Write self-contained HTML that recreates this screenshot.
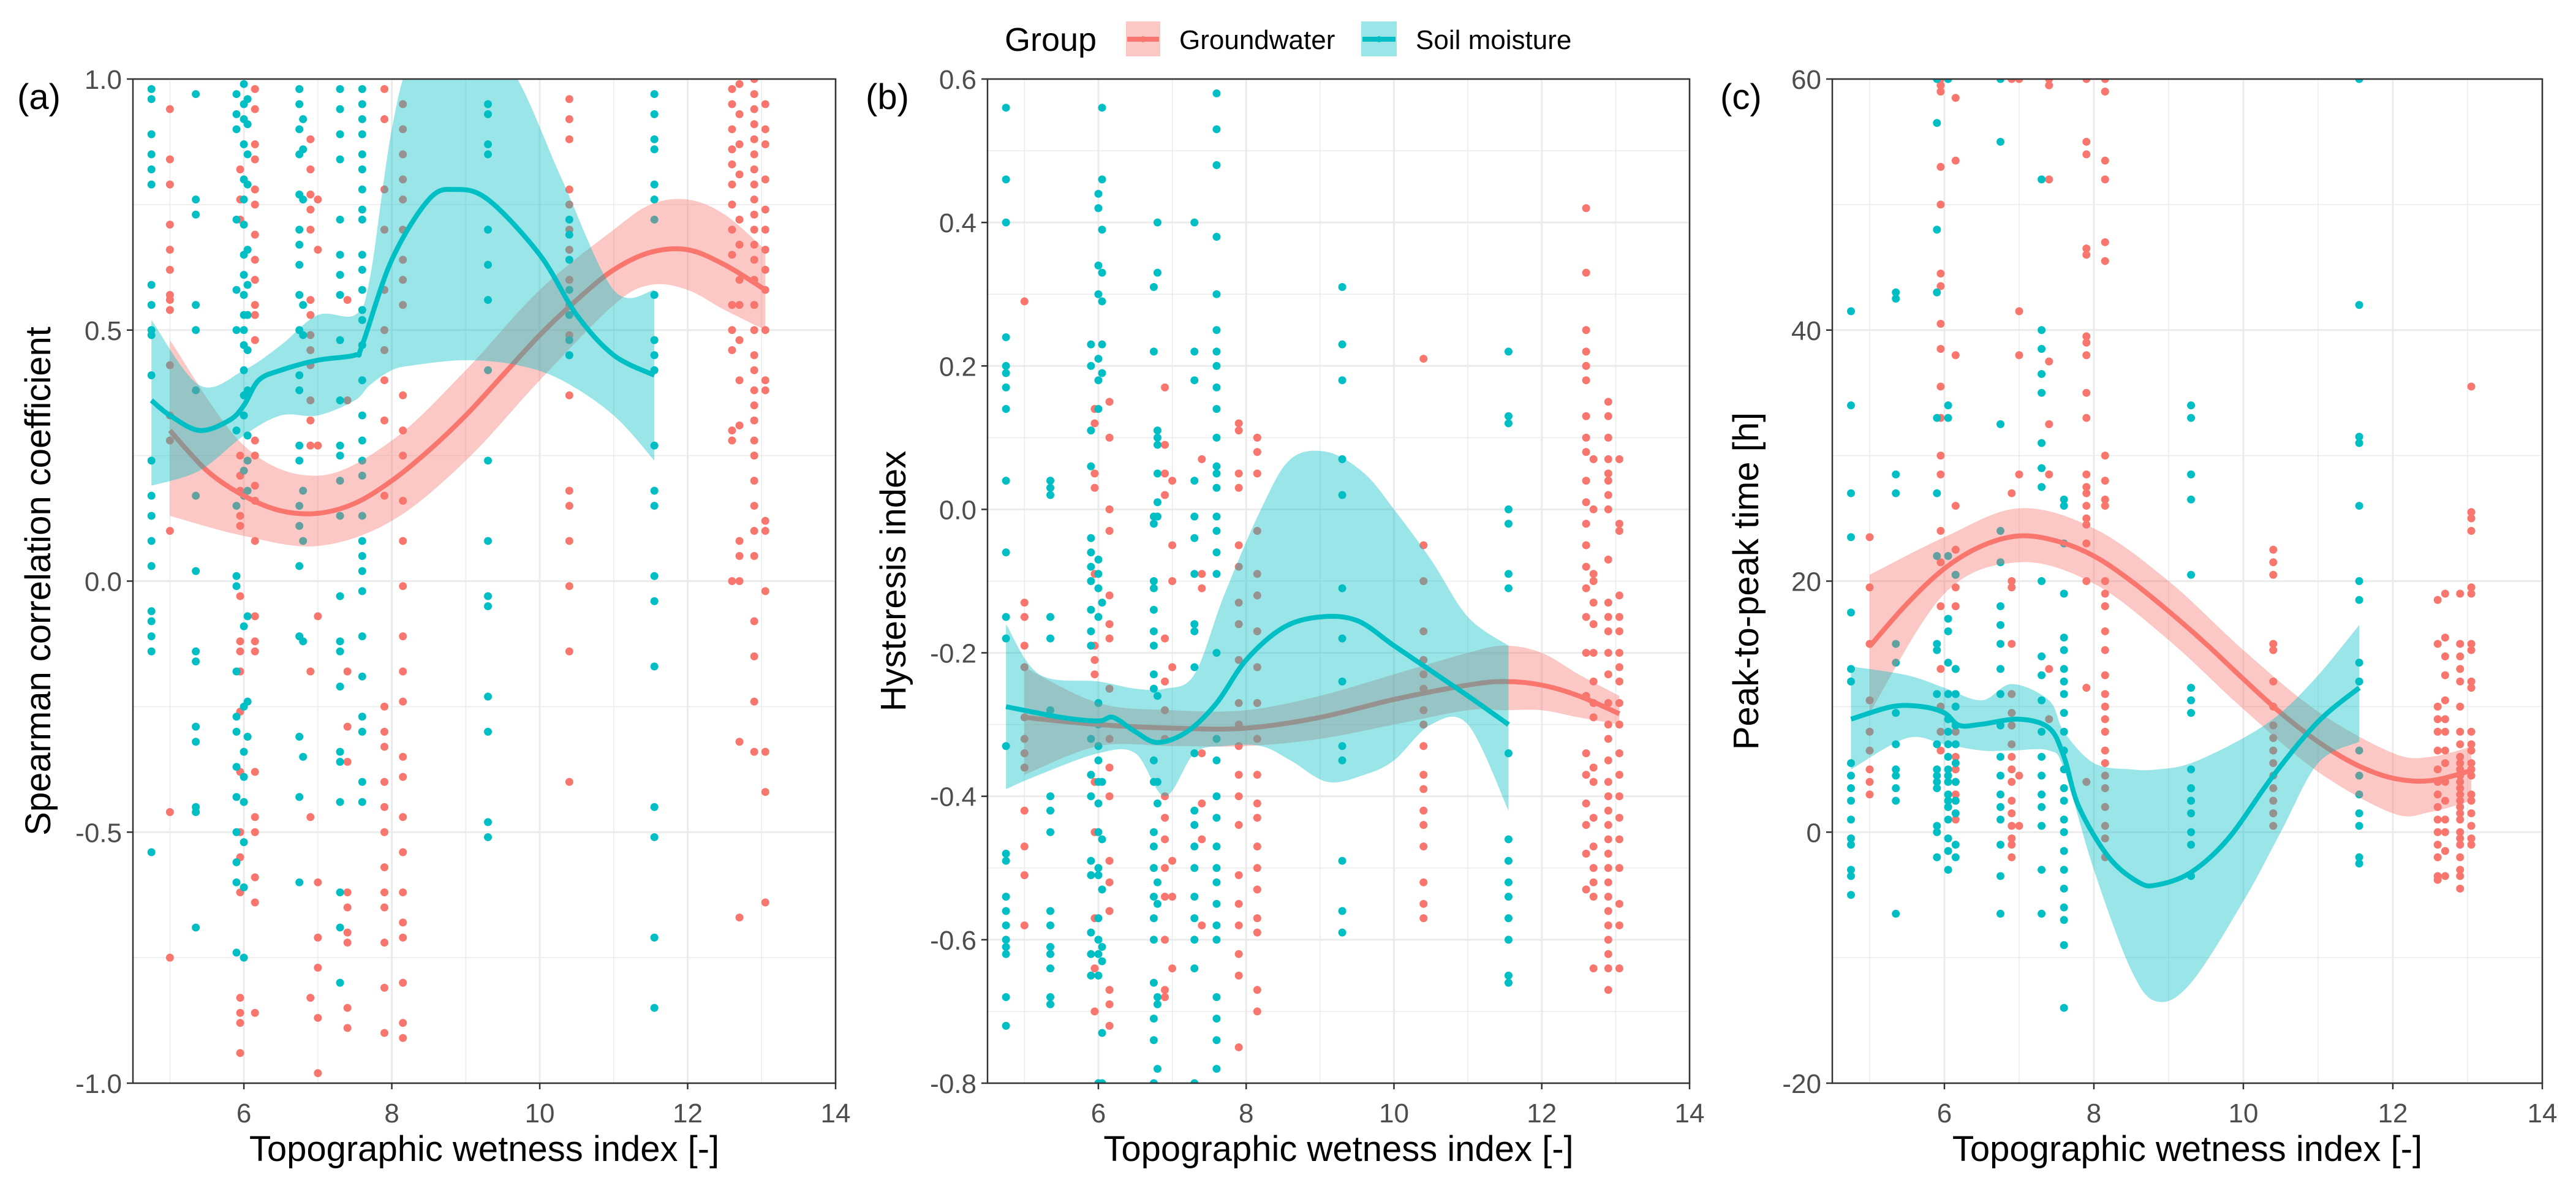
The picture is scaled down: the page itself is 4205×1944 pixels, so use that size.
<!DOCTYPE html>
<html><head><meta charset="utf-8"><style>
html,body{margin:0;padding:0;background:#fff;}
svg{display:block;font-family:"Liberation Sans",Arial,sans-serif;}
</style></head><body>
<svg id="chart" width="4205" height="1944" viewBox="0 0 4205 1944" xmlns="http://www.w3.org/2000/svg">
<rect width="4205" height="1944" fill="#fff"/>
<g id="legend">
  <text x="1640" y="83" font-size="54" fill="#000">Group</text>
  <g>
    <rect x="1838" y="35" width="56" height="57" fill="#F8766D" fill-opacity="0.4"/>
    <line x1="1840" y1="64" x2="1892" y2="64" stroke="#F8766D" stroke-width="8"/>
    <circle cx="1866" cy="64" r="5" fill="#F8766D"/>
    <text x="1925" y="80" font-size="44" fill="#000">Groundwater</text>
  </g>
  <g>
    <rect x="2222" y="35" width="58" height="57" fill="#00BFC4" fill-opacity="0.4"/>
    <line x1="2224" y1="64" x2="2278" y2="64" stroke="#00BFC4" stroke-width="8"/>
    <circle cx="2251" cy="64" r="5" fill="#00BFC4"/>
    <text x="2311" y="80" font-size="44" fill="#000">Soil moisture</text>
  </g>
</g>
</svg>
<script>
// ---------- shared ----------
const xTicks = [6, 8, 10, 12, 14];
const xMinor = [5, 7, 9, 11, 13];
const xDomain = [4.5, 14];

// ---------- Panel A data ----------
const aYTicks = [-1.0, -0.5, 0.0, 0.5, 1.0];
const aYTickLabels = ["-1.0", "-0.5", "0.0", "0.5", "1.0"];
const aYMinor = [-0.75, -0.25, 0.25, 0.75];
const aGwCols = [5.0, 5.95, 6.15, 6.9, 7.0, 7.4, 7.9, 8.15, 10.4, 12.6, 12.7, 12.9, 13.05];
const aGwVals = [
 [0.94,0.84,0.79,0.71,0.66,0.62,0.57,0.56,0.54,0.43,0.33,0.28,0.10,-0.46,-0.75],
 [0.82,0.76,0.72,0.25,0.21,0.18,0.13,0.11,-0.03,-0.12,-0.14,-0.18,-0.26,-0.38,-0.50,-0.55,-0.62,-0.83,-0.86,-0.88,-0.94],
 [0.98,0.94,0.87,0.84,0.78,0.75,0.69,0.64,0.60,0.55,0.53,0.48,0.28,0.25,0.19,0.16,0.08,-0.07,-0.12,-0.14,-0.38,-0.47,-0.50,-0.59,-0.64,-0.86],
 [0.88,0.82,0.77,0.74,0.70,0.56,0.53,0.49,0.46,0.43,0.36,0.32,0.27,-0.18,-0.47,-0.83],
 [0.76,0.66,0.27,-0.07,-0.60,-0.71,-0.77,-0.87,-0.98],
 [0.56,0.36,-0.18,-0.29,-0.36,-0.62,-0.65,-0.70,-0.72,-0.85,-0.89],
 [0.98,0.92,0.78,0.70,0.58,0.50,0.46,0.40,0.32,0.17,-0.25,-0.30,-0.33,-0.40,-0.45,-0.50,-0.57,-0.62,-0.65,-0.72,-0.81,-0.90],
 [0.95,0.90,0.85,0.80,0.76,0.70,0.64,0.60,0.55,0.37,0.30,0.25,0.16,0.08,-0.01,-0.11,-0.18,-0.24,-0.35,-0.39,-0.47,-0.54,-0.62,-0.68,-0.71,-0.80,-0.88,-0.91],
 [0.96,0.92,0.88,0.78,0.75,0.70,0.66,0.60,0.55,0.49,0.45,0.37,0.18,0.15,0.08,-0.01,-0.14,-0.40],
 [0.98,0.95,0.90,0.86,0.83,0.79,0.75,0.70,0.65,0.55,0.50,0.46,0.30,0.28,0.00],
 [0.99,0.93,0.87,0.81,0.72,0.67,0.60,0.55,0.48,0.40,0.31,0.08,0.05,0.00,-0.32,-0.67],
 [1.0,0.97,0.94,0.91,0.88,0.85,0.82,0.79,0.76,0.73,0.70,0.67,0.64,0.60,0.55,0.50,0.45,0.42,0.38,0.35,0.32,0.28,0.25,0.20,0.15,0.10,0.05,-0.08,-0.15,-0.24,-0.34],
 [0.95,0.90,0.87,0.80,0.74,0.70,0.66,0.62,0.58,0.50,0.40,0.38,0.12,0.10,-0.02,-0.34,-0.42,-0.64]
];
const aSmCols = [4.75, 5.35, 5.9, 6.0, 6.05, 6.75, 6.8, 7.3, 7.6, 9.3, 10.4, 11.55];
const aSmVals = [
 [0.98,0.96,0.89,0.85,0.82,0.79,0.59,0.55,0.50,0.49,0.41,0.24,0.17,0.13,0.08,0.03,-0.06,-0.08,-0.11,-0.14,-0.54],
 [0.97,0.76,0.73,0.55,0.50,0.38,0.17,0.02,-0.14,-0.16,-0.29,-0.32,-0.45,-0.46,-0.69],
 [0.97,0.93,0.90,0.72,0.58,0.50,0.30,0.15,0.01,-0.01,-0.18,-0.27,-0.30,-0.37,-0.43,-0.50,-0.56,-0.60,-0.74],
 [0.99,0.95,0.92,0.87,0.80,0.76,0.71,0.65,0.61,0.57,0.53,0.50,0.47,0.42,0.37,0.33,0.22,0.17,-0.09,-0.25,-0.34,-0.39,-0.44,-0.52,-0.61,-0.75],
 [0.96,0.91,0.85,0.79,0.66,0.59,0.53,0.46,0.38,0.29,0.24,0.18,-0.07,-0.24,-0.31],
 [0.98,0.95,0.90,0.85,0.77,0.70,0.67,0.63,0.57,0.50,0.41,0.38,0.27,0.24,0.15,0.11,0.03,-0.11,-0.31,-0.43,-0.60],
 [0.92,0.86,0.76,0.55,0.49,0.18,0.08,-0.12,-0.35],
 [0.98,0.94,0.89,0.84,0.72,0.65,0.61,0.57,0.48,0.36,0.27,0.25,0.20,0.13,-0.03,-0.12,-0.14,-0.21,-0.34,-0.36,-0.44,-0.62,-0.69,-0.80],
 [0.98,0.95,0.92,0.89,0.85,0.82,0.78,0.74,0.72,0.65,0.62,0.58,0.54,0.52,0.47,0.40,0.33,0.28,0.24,0.21,0.13,0.08,0.05,0.02,-0.02,-0.11,-0.19,-0.27,-0.30,-0.40,-0.44],
 [0.95,0.93,0.87,0.85,0.70,0.63,0.56,0.42,0.24,0.08,-0.03,-0.05,-0.23,-0.30,-0.48,-0.51],
 [0.72,0.69,0.64,0.58,0.53,0.48,0.45],
 [0.97,0.93,0.88,0.86,0.79,0.76,0.72,0.57,0.48,0.45,0.42,0.27,0.18,0.15,0.01,-0.04,-0.17,-0.45,-0.51,-0.71,-0.85]
];
const aGwFitX = [5.0,5.5,6,6.5,7,7.5,8,8.5,9,9.5,10,10.5,11,11.5,12,12.5,13.05];
const aGwFitY = [0.30,0.22,0.17,0.14,0.135,0.155,0.20,0.26,0.33,0.41,0.49,0.56,0.62,0.655,0.66,0.63,0.58];
const aGwBandX = [5.0,6,7,8,9,10,11,11.5,12,12.5,13.05];
const aGwLo = [0.13,0.09,0.07,0.12,0.24,0.40,0.55,0.59,0.58,0.54,0.50];
const aGwHi = [0.48,0.27,0.21,0.28,0.42,0.58,0.70,0.75,0.76,0.73,0.66];
const aSmFitX = [4.75,5.0,5.4,5.8,6.0,6.2,6.5,7.0,7.5,7.6,8.0,8.5,8.85,9.3,10,10.5,11,11.55];
const aSmFitY = [0.36,0.33,0.30,0.32,0.35,0.40,0.42,0.44,0.45,0.47,0.64,0.76,0.78,0.76,0.65,0.53,0.45,0.41];
const aSmBandX = [4.75,5.4,6,6.5,7,7.5,7.7,8,8.3,9,9.7,10.3,11,11.55];
const aSmLo = [0.19,0.22,0.29,0.33,0.33,0.36,0.39,0.42,0.43,0.44,0.43,0.40,0.33,0.24];
const aSmHi = [0.52,0.39,0.42,0.47,0.53,0.53,0.60,0.90,1.05,1.15,1.0,0.80,0.58,0.58];

// ---------- Panel B data ----------
const bYTicks = [-0.8,-0.6,-0.4,-0.2,0.0,0.2,0.4,0.6];
const bYTickLabels = ["-0.8","-0.6","-0.4","-0.2","0.0","0.2","0.4","0.6"];
const bYMinor = [-0.7,-0.5,-0.3,-0.1,0.1,0.3,0.5];
const bGwCols = [5.0, 5.95, 6.15, 6.9, 7.0, 7.4, 7.9, 8.15, 10.4, 12.6, 12.7, 12.9, 13.05];
const bGwVals = [
 [0.29,-0.13,-0.15,-0.19,-0.22,-0.29,-0.32,-0.34,-0.36,-0.42,-0.47,-0.51,-0.58],
 [0.14,0.12,0.05,0.03,-0.09,-0.19,-0.21,-0.23,-0.38,-0.45,-0.57,-0.64,-0.70],
 [0.15,0.10,0.0,-0.03,-0.12,-0.16,-0.18,-0.25,-0.32,-0.36,-0.40,-0.49,-0.52,-0.56,-0.67,-0.69,-0.72],
 [0.17,0.09,0.05,0.02,-0.18,-0.24,-0.28,-0.32,-0.40,-0.43,-0.46,-0.50,-0.54,-0.60,-0.67,-0.68],
 [0.04,-0.05,-0.10,-0.22,-0.49,-0.54,-0.64],
 [0.07,-0.09,-0.11,-0.34,-0.41,-0.46,-0.58],
 [0.12,0.11,0.05,0.03,-0.05,-0.08,-0.13,-0.16,-0.21,-0.27,-0.30,-0.33,-0.37,-0.40,-0.44,-0.51,-0.55,-0.58,-0.62,-0.65,-0.75],
 [0.10,0.08,0.05,-0.03,-0.09,-0.12,-0.17,-0.22,-0.27,-0.32,-0.37,-0.41,-0.43,-0.47,-0.50,-0.53,-0.57,-0.59,-0.67,-0.70],
 [0.21,-0.05,-0.10,-0.17,-0.21,-0.23,-0.25,-0.28,-0.30,-0.33,-0.37,-0.39,-0.42,-0.44,-0.47,-0.52,-0.55,-0.57],
 [0.42,0.33,0.25,0.22,0.20,0.18,0.13,0.10,0.08,0.04,0.01,-0.02,-0.05,-0.08,-0.11,-0.15,-0.20,-0.26,-0.34,-0.37,-0.41,-0.44,-0.48,-0.53],
 [0.07,0.0,-0.09,-0.10,-0.13,-0.16,-0.20,-0.24,-0.27,-0.29,-0.36,-0.38,-0.43,-0.47,-0.50,-0.52,-0.54,-0.64],
 [0.15,0.13,0.10,0.07,0.05,0.04,0.02,0.0,-0.07,-0.13,-0.15,-0.17,-0.20,-0.23,-0.27,-0.30,-0.32,-0.35,-0.38,-0.40,-0.42,-0.44,-0.46,-0.48,-0.50,-0.52,-0.54,-0.56,-0.58,-0.60,-0.62,-0.64,-0.67],
 [0.07,-0.02,-0.03,-0.12,-0.15,-0.17,-0.20,-0.22,-0.24,-0.27,-0.30,-0.34,-0.37,-0.40,-0.43,-0.46,-0.50,-0.55,-0.58,-0.64]
];
const bSmCols = [4.75, 5.35, 5.9, 6.0, 6.05, 6.75, 6.8, 7.3, 7.6, 9.3, 11.55];
const bSmVals = [
 [0.56,0.46,0.40,0.24,0.20,0.19,0.17,0.14,0.04,-0.06,-0.15,-0.18,-0.33,-0.48,-0.49,-0.54,-0.56,-0.58,-0.60,-0.61,-0.62,-0.68,-0.72],
 [0.04,0.03,0.02,-0.15,-0.18,-0.28,-0.40,-0.42,-0.45,-0.56,-0.58,-0.61,-0.62,-0.64,-0.68,-0.69],
 [0.23,0.20,0.11,0.06,-0.04,-0.06,-0.08,-0.10,-0.14,-0.17,-0.19,-0.32,-0.37,-0.40,-0.49,-0.51,-0.59,-0.62,-0.65],
 [0.44,0.42,0.34,0.30,0.21,0.18,0.14,-0.07,-0.09,-0.11,-0.15,-0.27,-0.30,-0.33,-0.35,-0.38,-0.41,-0.45,-0.50,-0.51,-0.57,-0.60,-0.62,-0.65,-0.80],
 [0.56,0.46,0.39,0.33,0.29,0.23,0.19,-0.13,-0.38,-0.46,-0.53,-0.61,-0.63,-0.73,-0.80],
 [0.22,0.31,-0.01,-0.02,-0.10,-0.11,-0.14,-0.17,-0.19,-0.23,-0.25,-0.35,-0.38,-0.45,-0.47,-0.50,-0.54,-0.57,-0.60,-0.66,-0.71,-0.74,-0.80],
 [0.40,0.33,0.11,0.10,0.09,0.05,0.01,-0.01,-0.26,-0.38,-0.41,-0.52,-0.55,-0.68,-0.69,-0.78],
 [0.40,0.22,0.18,0.04,-0.01,-0.04,-0.09,-0.16,-0.17,-0.22,-0.34,-0.42,-0.44,-0.47,-0.50,-0.54,-0.57,-0.60,-0.64,-0.80],
 [0.58,0.53,0.48,0.38,0.30,0.25,0.22,0.20,0.17,0.14,0.10,0.06,0.05,0.03,-0.01,-0.03,-0.06,-0.09,-0.20,-0.32,-0.35,-0.40,-0.43,-0.47,-0.50,-0.52,-0.55,-0.58,-0.60,-0.68,-0.71,-0.74,-0.78],
 [0.31,0.23,0.18,0.07,0.02,-0.11,-0.18,-0.24,-0.33,-0.35,-0.49,-0.56,-0.59],
 [0.22,0.13,0.12,0.0,-0.02,-0.09,-0.11,-0.34,-0.46,-0.49,-0.52,-0.54,-0.57,-0.60,-0.65,-0.66]
];
const bGwFitX = [5,6,7,8,9,10,11,11.5,12,12.5,13.05];
const bGwFitY = [-0.29,-0.30,-0.305,-0.305,-0.29,-0.265,-0.245,-0.24,-0.245,-0.26,-0.285];
const bGwBandX = [5,6,7,8,9,10,11,11.5,12,12.5,13.05];
const bGwLo = [-0.37,-0.33,-0.33,-0.33,-0.32,-0.30,-0.28,-0.28,-0.28,-0.29,-0.30];
const bGwHi = [-0.22,-0.27,-0.28,-0.28,-0.26,-0.23,-0.20,-0.19,-0.20,-0.23,-0.26];
const bSmFitX = [4.75,5.5,6,6.2,6.5,6.8,7.2,7.6,8,8.5,9,9.5,10,10.5,11,11.55];
const bSmFitY = [-0.275,-0.29,-0.295,-0.29,-0.31,-0.325,-0.31,-0.27,-0.21,-0.165,-0.15,-0.155,-0.19,-0.225,-0.26,-0.30];
const bSmBandX = [4.75,5.2,6,6.5,6.9,7.3,7.7,8.2,8.6,9.1,9.6,10,10.5,11,11.55];
const bSmLo = [-0.39,-0.37,-0.34,-0.34,-0.40,-0.34,-0.33,-0.33,-0.35,-0.38,-0.37,-0.35,-0.30,-0.30,-0.42];
const bSmHi = [-0.16,-0.23,-0.24,-0.25,-0.25,-0.23,-0.12,0.0,0.07,0.08,0.05,0.0,-0.07,-0.15,-0.19];

// ---------- Panel C data ----------
const cYTicks = [-20,0,20,40,60];
const cYTickLabels = ["-20","0","20","40","60"];
const cYMinor = [-10,10,30,50];
const cGwCols = [5.0, 5.95, 6.15, 6.9, 7.0, 7.4, 7.9, 8.15, 10.4, 12.6, 12.7, 12.9, 13.05];
const cGwVals = [
 [23.5,19.5,15,10.5,8,6.5,5,4,3],
 [60,59.5,59,53,50,44.5,43.5,40.5,38.5,35.5,33,30,28.5,24,21.5,18,13,10,8,6.5],
 [58.5,53.5,38,26,22.5,20.5,19.5,18,13,11,10,8,7,6,5,4,3,2.5,1],
 [60,27,20,19.5,15,11,9.5,8.5,7,6,5,4,2.5,1.5,0.5,-0.5,-1,-2],
 [60,41.5,38,28.5,4.5,0.5],
 [60,59.5,52,37.5,32.5,28.5,13,9],
 [60,55,54,46.5,46,39.5,39,38,35,33,28.5,27.5,27,26,25,24.5,23,20,11.5,4],
 [60,59,53.5,52,47,45.5,30,28,26.5,26,20,19,18,16,14.5,12.5,11,10,9,8,6.5,5.5,4.5,3.5,2,0.5,-0.5,-2],
 [22.5,21.5,20.5,15,14.5,12,10,8.5,7.5,6.5,5.5,4.5,3.5,2.5,1.5,0.5],
 [18.5,15,10,9,8,6.5,5,4,3,2,1,0,-1,-2,-3.5,-3.8],
 [19,15.5,14,12.5,10.5,9,8,6.5,5.5,4,2.5,1,0,-1.5,-3.5],
 [19,15,14,13,12,10,8,7,6,5.5,5,4.5,4,3.5,3,2.5,2,1.5,1,0,-0.5,-1,-2,-3,-3.5,-4.5],
 [35.5,25.5,25,24,19.5,19,15,14.5,12,11.5,8,7,6.5,5.5,5,4.5,3,2.5,1.5,0.5,-0.5,-1]
];
const cSmCols = [4.75, 5.35, 5.9, 6.05, 6.15, 6.75, 7.3, 7.6, 9.3, 11.55];
const cSmVals = [
 [41.5,34,27,23.5,17.5,13,12,5.5,4.5,3.5,2.5,1,-0.5,-1,-3,-3.5,-5],
 [43,42.5,28.5,27,15,13.5,9.5,7,5,4.5,3.5,2.5,-6.5],
 [60,56.5,48,43,33,27,22,15,14.5,11,7,5,4.5,4,3.5,0.5,0,-2],
 [60,34,33,22,17,16,13.5,11,9,8,7,6,5,4.5,4,3,2.5,2,1,-0.5,-1.5,-3],
 [20.5,13,11,10,8.5,7,5.5,4,2.5,1.5,-1,-2],
 [60,55,32.5,24,21.5,18,16.5,15,13,11,8.5,6,4.5,3,2,1,-1,-3.5,-6.5],
 [52,40,38.5,36.5,35,31,29,27.5,20,14,12.5,10.5,8,6,4.5,3,2,0.5,-3,-6.5],
 [26.5,26,23,19,15.5,14.5,13,12,11,9.5,8,6.5,5,3.5,2.5,1,0,-1.5,-3,-4.5,-6,-7,-9,-14],
 [34,33,28.5,26.5,20.5,11.5,10.5,9.5,5,3.5,2.5,1.5,0,-1,-3.5],
 [60,42,31.5,31,26,20,18.5,13.5,12,6.5,4.5,3,1.5,0.5,-2,-2.5]
];
const cGwFitX = [5,5.5,6,6.5,7,7.5,8,8.5,9,9.5,10,10.5,11,11.5,12,12.5,13.05];
const cGwFitY = [14.8,18.2,21,22.8,23.6,23.2,22,20,17.6,15,12.2,9.5,7.2,5.4,4.3,4.1,4.9];
const cGwBandX = [5,6,7,8,9,10,11,12,12.5,13.05];
const cGwLo = [9.5,19,21.5,19.8,15.3,9.8,4.8,1.5,1.6,2.5];
const cGwHi = [20.5,23.5,25.8,24.2,20,14.5,9.6,6.3,6,6.8];
const cSmFitX = [4.75,5.3,5.7,6,6.2,6.5,7,7.4,7.6,7.8,8.2,8.6,8.85,9.3,9.8,10.4,11,11.55];
const cSmFitY = [9,10,10,9.5,8.5,8.6,9,8.3,6,2,-2,-4,-4.2,-3.2,-0.5,4.5,8.8,11.5];
const cSmBandX = [4.75,5.5,6,6.5,6.9,7.4,7.6,8,8.5,8.85,9.3,10,10.5,11,11.55];
const cSmLo = [5,7.5,7,6.5,6.5,6.5,5,-3,-11,-13.5,-12,-5.5,0,5.5,7.2];
const cSmHi = [13.2,12.5,11.5,10.5,11.8,10.5,8,5.5,5,5,5.5,7.5,9.5,12.5,16.5];

// ---------- drawing ----------
const NS = "http://www.w3.org/2000/svg";
const svg = document.getElementById("chart");
const RED = "#F8766D", CYAN = "#00BFC4";
const TOP = 129, BOT = 1768;

function mk(tag, attrs, parent) {
  const e = document.createElementNS(NS, tag);
  for (const k in attrs) e.setAttribute(k, attrs[k]);
  parent.appendChild(e);
  return e;
}
function splinePath(pts) {
  if (pts.length < 2) return "";
  let d = "M" + pts[0][0] + "," + pts[0][1];
  for (let i = 0; i < pts.length - 1; i++) {
    const p0 = pts[i - 1] || pts[i], p1 = pts[i], p2 = pts[i + 1], p3 = pts[i + 2] || p2;
    const c1x = p1[0] + (p2[0] - p0[0]) / 6, c1y = p1[1] + (p2[1] - p0[1]) / 6;
    const c2x = p2[0] - (p3[0] - p1[0]) / 6, c2y = p2[1] - (p3[1] - p1[1]) / 6;
    d += " C" + c1x + "," + c1y + " " + c2x + "," + c2y + " " + p2[0] + "," + p2[1];
  }
  return d;
}

function panel(cfg) {
  const L = cfg.left, R = cfg.right;
  const xs = v => L + (v - xDomain[0]) / (xDomain[1] - xDomain[0]) * (R - L);
  const ys = v => BOT - (v - cfg.yDomain[0]) / (cfg.yDomain[1] - cfg.yDomain[0]) * (BOT - TOP);
  const g = mk("g", {}, svg);
  
  
  const clipId = "clip-" + cfg.id;
  const cp = mk("clipPath", {id: clipId}, mk("defs", {}, g));
  mk("rect", {x: L, y: TOP, width: R - L, height: BOT - TOP}, cp);

  const grid = mk("g", {}, g);
  
  
  cfg.yMinor.forEach(v => mk("line", {x1: L, x2: R, y1: ys(v), y2: ys(v), stroke: "#EBEBEB", "stroke-width": 1.5}, grid));
  xMinor.forEach(v => mk("line", {x1: xs(v), x2: xs(v), y1: TOP, y2: BOT, stroke: "#EBEBEB", "stroke-width": 1.5}, grid));
  cfg.yTicks.forEach(v => mk("line", {x1: L, x2: R, y1: ys(v), y2: ys(v), stroke: "#EBEBEB", "stroke-width": 3}, grid));
  xTicks.forEach(v => mk("line", {x1: xs(v), x2: xs(v), y1: TOP, y2: BOT, stroke: "#EBEBEB", "stroke-width": 3}, grid));

  const plot = mk("g", {"clip-path": "url(#" + clipId + ")"}, g);
  const gwPts = mk("g", {}, plot);
  
  
  cfg.gwCols.forEach((x, i) => cfg.gwVals[i].forEach(v => {
    const c = mk("circle", {cx: xs(x), cy: ys(v), r: 6.5, fill: RED}, gwPts);
    
    
  }));
  const smPts = mk("g", {}, plot);
  
  
  cfg.smCols.forEach((x, i) => cfg.smVals[i].forEach(v => {
    const c = mk("circle", {cx: xs(x), cy: ys(v), r: 6.5, fill: CYAN}, smPts);
    
    
  }));

  function smooth(bx, lo, hi, fx, fy, col, name) {
    const up = bx.map((x, i) => [xs(x), ys(hi[i])]);
    const dn = bx.map((x, i) => [xs(x), ys(lo[i])]).reverse();
    const d = splinePath(up) + " L" + dn[0][0] + "," + dn[0][1] + splinePath(dn).replace(/^M[^ ]+/, "") + " Z";
    const rib = mk("path", {d: d, fill: col, "fill-opacity": 0.4, stroke: "none"}, plot);
    
    
    const ln = mk("path", {d: splinePath(fx.map((x, i) => [xs(x), ys(fy[i])])), fill: "none", stroke: col, "stroke-width": 8, "stroke-linejoin": "round"}, plot);
    
    
  }
  smooth(cfg.gwBandX, cfg.gwLo, cfg.gwHi, cfg.gwFitX, cfg.gwFitY, RED, "groundwater");
  smooth(cfg.smBandX, cfg.smLo, cfg.smHi, cfg.smFitX, cfg.smFitY, CYAN, "soil-moisture");

  const frame = mk("rect", {x: L, y: TOP, width: R - L, height: BOT - TOP, fill: "none", stroke: "#333", "stroke-width": 2.5}, g);
  
  

  const yax = mk("g", {}, g);
  
  
  cfg.yTicks.forEach((v, i) => {
    mk("line", {x1: L - 10, x2: L, y1: ys(v), y2: ys(v), stroke: "#333", "stroke-width": 2.5}, yax);
    const t = mk("text", {x: L - 18, y: ys(v) + 16, "text-anchor": "end", "font-size": 44, fill: "#4D4D4D"}, yax);
    t.textContent = cfg.yTickLabels[i];
  });
  const xax = mk("g", {}, g);
  
  
  xTicks.forEach(v => {
    mk("line", {x1: xs(v), x2: xs(v), y1: BOT, y2: BOT + 10, stroke: "#333", "stroke-width": 2.5}, xax);
    const t = mk("text", {x: xs(v), y: 1832, "text-anchor": "middle", "font-size": 44, fill: "#4D4D4D"}, xax);
    t.textContent = String(v);
  });
  const xt = mk("text", {x: (L + R) / 2, y: 1895, "text-anchor": "middle", "font-size": 58, fill: "#000"}, g);
  xt.textContent = "Topographic wetness index [-]";
  
  
  const yt = mk("text", {x: 0, y: 0, "text-anchor": "middle", "font-size": 58, fill: "#000", transform: "translate(" + cfg.yTitleX + "," + ((TOP + BOT) / 2) + ") rotate(-90)"}, g);
  yt.textContent = cfg.yTitle;
  
  
  const pl = mk("text", {x: cfg.labelX, y: 178, "font-size": 58, fill: "#000"}, g);
  pl.textContent = "(" + cfg.id + ")";
  
  
}

panel({id: "a", left: 217, right: 1364, yDomain: [-1, 1], yTicks: aYTicks, yTickLabels: aYTickLabels, yMinor: aYMinor,
  gwCols: aGwCols, gwVals: aGwVals, smCols: aSmCols, smVals: aSmVals,
  gwFitX: aGwFitX, gwFitY: aGwFitY, gwBandX: aGwBandX, gwLo: aGwLo, gwHi: aGwHi,
  smFitX: aSmFitX, smFitY: aSmFitY, smBandX: aSmBandX, smLo: aSmLo, smHi: aSmHi,
  yTitle: "Spearman correlation coefficient", yTitleX: 82, labelX: 28});
panel({id: "b", left: 1612, right: 2758, yDomain: [-0.8, 0.6], yTicks: bYTicks, yTickLabels: bYTickLabels, yMinor: bYMinor,
  gwCols: bGwCols, gwVals: bGwVals, smCols: bSmCols, smVals: bSmVals,
  gwFitX: bGwFitX, gwFitY: bGwFitY, gwBandX: bGwBandX, gwLo: bGwLo, gwHi: bGwHi,
  smFitX: bSmFitX, smFitY: bSmFitY, smBandX: bSmBandX, smLo: bSmLo, smHi: bSmHi,
  yTitle: "Hysteresis index", yTitleX: 1478, labelX: 1413});
panel({id: "c", left: 2991, right: 4150, yDomain: [-20, 60], yTicks: cYTicks, yTickLabels: cYTickLabels, yMinor: cYMinor,
  gwCols: cGwCols, gwVals: cGwVals, smCols: cSmCols, smVals: cSmVals,
  gwFitX: cGwFitX, gwFitY: cGwFitY, gwBandX: cGwBandX, gwLo: cGwLo, gwHi: cGwHi,
  smFitX: cSmFitX, smFitY: cSmFitY, smBandX: cSmBandX, smLo: cSmLo, smHi: cSmHi,
  yTitle: "Peak-to-peak time [h]", yTitleX: 2870, labelX: 2808});
</script>
</body></html>
